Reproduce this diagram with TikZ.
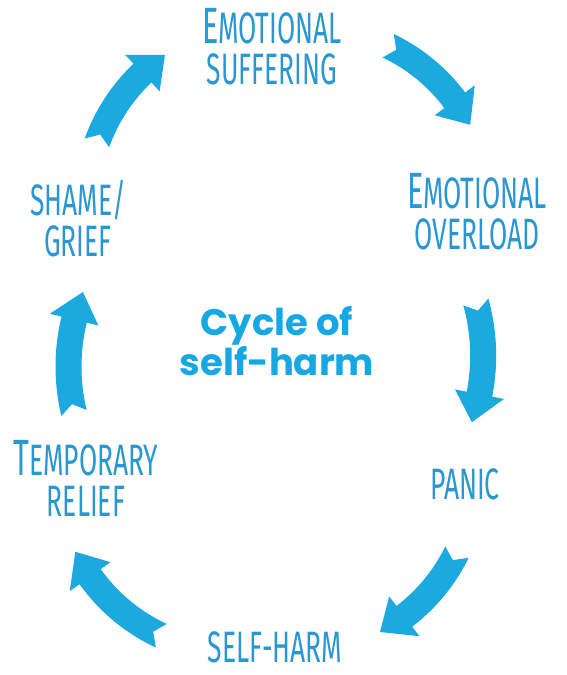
\documentclass[tikz,border=0pt]{standalone}
\usepackage{fontspec}
\usetikzlibrary{calc}
\newfontfamily\handfont[FakeStretch=0.6]{Fira Sans}
\newfontfamily\cyclefont{Poppins}
\definecolor{arrowblue}{HTML}{1CA9E0}
\definecolor{labelblue}{HTML}{2A96D2}
\definecolor{titleblue}{HTML}{16A8E2}
\tikzset{
  stagelabel/.style={text=labelblue, align=center, inner sep=0pt, font=\handfont\fontsize{44}{41}\selectfont},
  cyclearrow/.style={fill=arrowblue},
}
\newcommand{\initcap}[1]{{\fontsize{51}{41}\selectfont #1}}
% curved block arrow: centre x, centre y, radius, from angle, to angle
\newcommand{\blockarc}[5]{%
  \pgfmathsetmacro\dr{(#5-#4)/abs(#5-#4)}
  \pgfmathsetmacro\hb{#5-\dr*29/(#3)*180/pi}
  \pgfmathsetmacro\nt{#4+\dr*9/(#3)*180/pi}
  \pgfmathsetmacro\ro{#3+13}
  \pgfmathsetmacro\ri{#3-13}
  \pgfmathsetmacro\hro{#3+25}
  \pgfmathsetmacro\hri{#3-25}
  \fill[cyclearrow] ($(#1,#2)+(#4:\ro)$) arc[start angle=#4, end angle=\hb, radius=\ro]
    -- ($(#1,#2)+(\hb:\hro)$) -- ($(#1,#2)+(#5:#3)$) -- ($(#1,#2)+(\hb:\hri)$)
    -- ($(#1,#2)+(\hb:\ri)$) arc[start angle=\hb, end angle=#4, radius=\ri]
    -- ($(#1,#2)+(\nt:#3)$) -- cycle;
}
\begin{document}
\begin{tikzpicture}[x=1pt, y=-1pt]
\useasboundingbox (0,0) rectangle (566,675);
% stages
\node[stagelabel] (suffering) at (272,47) {\initcap{E}MOTIONAL\\SUFFERING};
\node[stagelabel] (overload) at (477,212) {\initcap{E}MOTIONAL\\OVERLOAD};
\node[stagelabel] (panic) at (465,484) {PANIC};
\node[stagelabel] (selfharm) at (275,647) {SELF-HARM};
\node[stagelabel] (relief) at (86,478) {\initcap{T}EMPORARY\\RELIEF};
\node[stagelabel] (shame) at (78,219) {SHAME/\\GRIEF};
% centre
\node[text=titleblue, align=center, inner sep=0pt, font=\cyclefont\bfseries\fontsize{37}{40}\selectfont] (title) at (277,341) {Cycle of\\self-harm};
% arrows round the cycle
\blockarc{310.7}{208.2}{180}{-64.5}{-27.6}
\blockarc{283.2}{355.7}{200}{-15.6}{19.4}
\blockarc{295.2}{473.2}{180}{26.0}{61.9}
\blockarc{236.8}{472.3}{180}{114.8}{153.8}
\blockarc{268.5}{366.6}{200}{166.6}{201.9}
\blockarc{266.4}{203.6}{180}{199.7}{235.7}
\end{tikzpicture}
\end{document}
